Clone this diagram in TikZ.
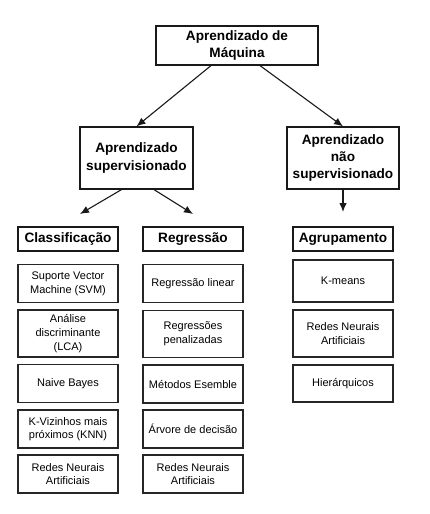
\documentclass[tikz,border=0pt]{standalone}
\usepackage{fontspec}
\setmainfont{Liberation Sans}
\usetikzlibrary{arrows.meta}
\begin{document}
\begin{tikzpicture}[x=1pt,y=-1pt,
  box/.style={draw=black!85,line width=1.1pt,align=center,inner sep=0pt,
    font=\fontsize{11}{13.6}\selectfont},
  head/.style={draw=black!90,line width=1.7pt,align=center,inner sep=0pt,
    minimum width=100pt,minimum height=24pt,font=\fontsize{13.6}{17}\selectfont\bfseries},
  topbox/.style={draw=black!90,line width=1.2pt,align=center,inner sep=0pt,
    font=\fontsize{13.6}{17.3}\selectfont\bfseries},
  arr/.style={-{Latex[length=9pt,width=7.5pt]},line width=1.1pt,draw=black!90}]
\useasboundingbox (0,0) rectangle (430,514);
\node[topbox,minimum width=162pt,minimum height=39pt] (top) at (237,45.5) {Aprendizado de\\Máquina};
\node[topbox,minimum width=113pt,minimum height=62pt] (sup) at (136.5,158) {Aprendizado\\supervisionado};
\node[topbox,minimum width=112pt,minimum height=62pt] (unsup) at (343,158) {Aprendizado\\não\\supervisionado};
\node[head] (cla) at (68,239) {Classificação};
\node[head] (reg) at (193,239) {Regressão};
\node[head] (agr) at (343,239) {Agrupamento};
% column 1
\node[box,minimum width=100pt,minimum height=37.5pt] (c1a) at (68,283.5) {Suporte Vector\\Machine (SVM)};
\node[box,minimum width=100pt,minimum height=47pt] (c1b) at (68,333.5) {Análise\\discriminante\\(LCA)};
\node[box,minimum width=100pt,minimum height=37.5pt] (c1c) at (68,383.5) {Naive Bayes};
\node[box,minimum width=100pt,minimum height=38pt] (c1d) at (68,429) {K-Vizinhos mais\\próximos (KNN)};
\node[box,minimum width=100pt,minimum height=38pt] (c1e) at (68,474) {Redes Neurais\\Artificiais};
% column 2
\node[box,minimum width=100pt,minimum height=37.5pt] (c2a) at (193,283.5) {Regressão linear};
\node[box,minimum width=100pt,minimum height=47pt] (c2b) at (193,333.7) {Regressões\\penalizadas};
\node[box,minimum width=100pt,minimum height=38pt] (c2c) at (193,384) {Métodos Esemble};
\node[box,minimum width=100pt,minimum height=38pt] (c2d) at (193,429) {Árvore de decisão};
\node[box,minimum width=100pt,minimum height=38pt] (c2e) at (193,474) {Redes Neurais\\Artificiais};
% column 3
\node[box,minimum width=100pt,minimum height=42pt] (c3a) at (343,281) {K-means};
\node[box,minimum width=100pt,minimum height=47pt] (c3b) at (343,333.5) {Redes Neurais\\Artificiais};
\node[box,minimum width=100pt,minimum height=37pt] (c3c) at (343,383.5) {Hierárquicos};
% arrow ends
\coordinate (e1) at (80,214);
\coordinate (e2) at (193,214);
\coordinate (e3) at (343,212);
\draw[arr] ([xshift=-26pt]top.south) -- (sup.north);
\draw[arr] ([xshift=23pt]top.south) -- (unsup.north);
\draw[arr] ([xshift=-15pt]sup.south) -- (e1);
\draw[arr] ([xshift=17.5pt]sup.south) -- (e2);
\draw[arr] (unsup.south) -- (e3);
\end{tikzpicture}
\end{document}
